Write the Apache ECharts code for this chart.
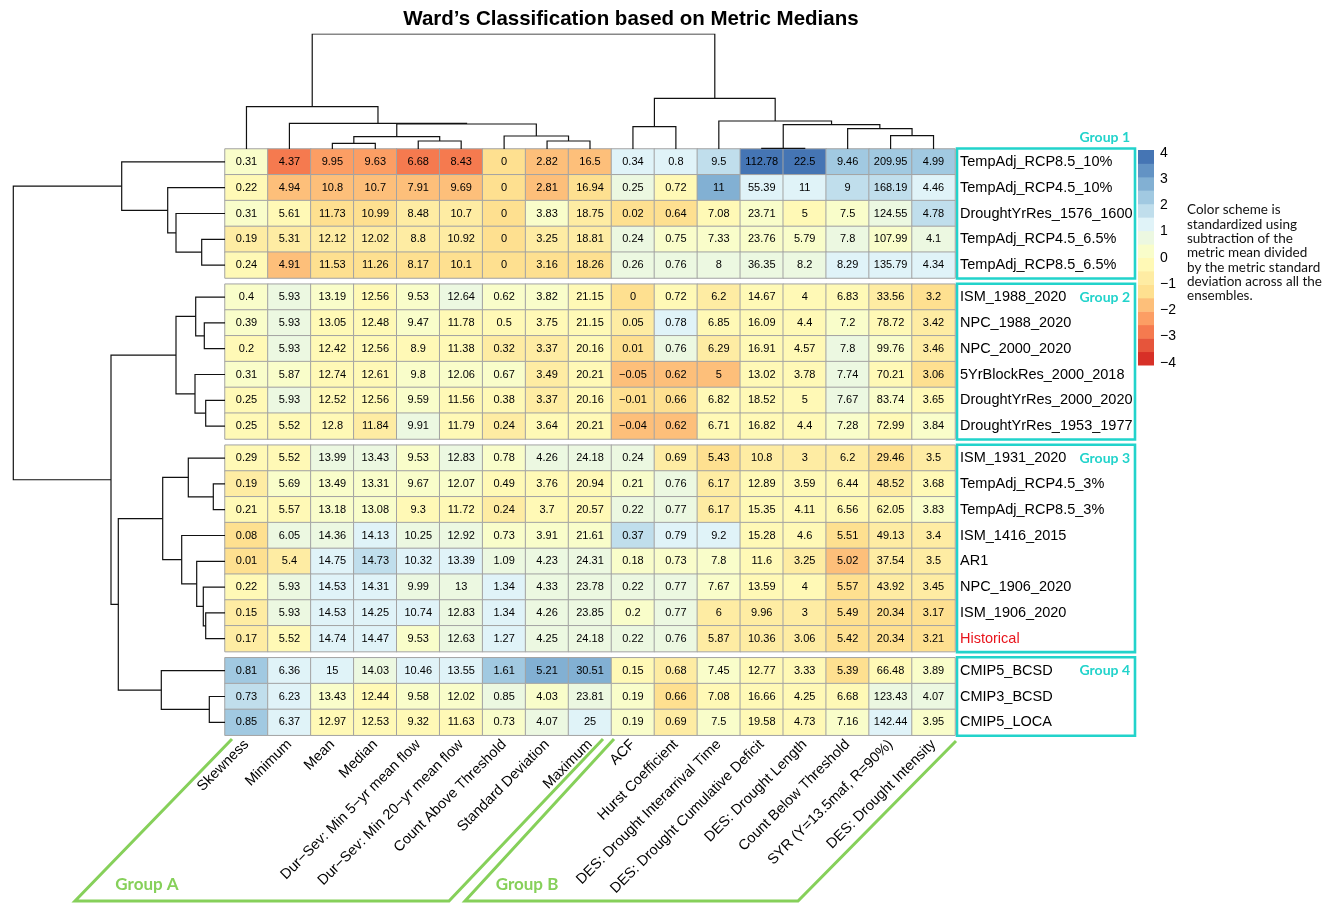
<!DOCTYPE html>
<html><head><meta charset="utf-8">
<script src="https://cdn.jsdelivr.net/npm/echarts@6/dist/echarts.min.js"></script>
<style>html,body{margin:0;padding:0;background:#fff}#c{width:1332px;height:903px}</style>
</head><body><div id="c"></div>
<script>
// ---------------- DATA ----------------
const columns = ['Skewness','Minimum','Mean','Median','Dur\u2212Sev: Min 5\u2212yr mean flow','Dur\u2212Sev: Min 20\u2212yr mean flow','Count Above Threshold','Standard Deviation','Maximum','ACF','Hurst Coefficient','DES: Drought Interarrival Time','DES: Drought Cumulative Deficit','DES: Drought Length','Count Below Threshold','SYR (Y=13.5maf, R=90%)','DES: Drought Intensity'];

const group1Rows = ['TempAdj_RCP8.5_10%','TempAdj_RCP4.5_10%','DroughtYrRes_1576_1600','TempAdj_RCP4.5_6.5%','TempAdj_RCP8.5_6.5%'];
const group1Values = [
  [0.31,4.37,9.95,9.63,6.68,8.43,0,2.82,16.5,0.34,0.8,9.5,112.78,22.5,9.46,209.95,4.99],
  [0.22,4.94,10.8,10.7,7.91,9.69,0,2.81,16.94,0.25,0.72,11,55.39,11,9,168.19,4.46],
  [0.31,5.61,11.73,10.99,8.48,10.7,0,3.83,18.75,0.02,0.64,7.08,23.71,5,7.5,124.55,4.78],
  [0.19,5.31,12.12,12.02,8.8,10.92,0,3.25,18.81,0.24,0.75,7.33,23.76,5.79,7.8,107.99,4.1],
  [0.24,4.91,11.53,11.26,8.17,10.1,0,3.16,18.26,0.26,0.76,8,36.35,8.2,8.29,135.79,4.34]
];
const group2Rows = ['ISM_1988_2020','NPC_1988_2020','NPC_2000_2020','5YrBlockRes_2000_2018','DroughtYrRes_2000_2020','DroughtYrRes_1953_1977'];
const group2Values = [
  [0.4,5.93,13.19,12.56,9.53,12.64,0.62,3.82,21.15,0,0.72,6.2,14.67,4,6.83,33.56,3.2],
  [0.39,5.93,13.05,12.48,9.47,11.78,0.5,3.75,21.15,0.05,0.78,6.85,16.09,4.4,7.2,78.72,3.42],
  [0.2,5.93,12.42,12.56,8.9,11.38,0.32,3.37,20.16,0.01,0.76,6.29,16.91,4.57,7.8,99.76,3.46],
  [0.31,5.87,12.74,12.61,9.8,12.06,0.67,3.49,20.21,-0.05,0.62,5,13.02,3.78,7.74,70.21,3.06],
  [0.25,5.93,12.52,12.56,9.59,11.56,0.38,3.37,20.16,-0.01,0.66,6.82,18.52,5,7.67,83.74,3.65],
  [0.25,5.52,12.8,11.84,9.91,11.79,0.24,3.64,20.21,-0.04,0.62,6.71,16.82,4.4,7.28,72.99,3.84]
];
const group3Rows = ['ISM_1931_2020','TempAdj_RCP4.5_3%','TempAdj_RCP8.5_3%','ISM_1416_2015','AR1','NPC_1906_2020','ISM_1906_2020','Historical'];
const group3Values = [
  [0.29,5.52,13.99,13.43,9.53,12.83,0.78,4.26,24.18,0.24,0.69,5.43,10.8,3,6.2,29.46,3.5],
  [0.19,5.69,13.49,13.31,9.67,12.07,0.49,3.76,20.94,0.21,0.76,6.17,12.89,3.59,6.44,48.52,3.68],
  [0.21,5.57,13.18,13.08,9.3,11.72,0.24,3.7,20.57,0.22,0.77,6.17,15.35,4.11,6.56,62.05,3.83],
  [0.08,6.05,14.36,14.13,10.25,12.92,0.73,3.91,21.61,0.37,0.79,9.2,15.28,4.6,5.51,49.13,3.4],
  [0.01,5.4,14.75,14.73,10.32,13.39,1.09,4.23,24.31,0.18,0.73,7.8,11.6,3.25,5.02,37.54,3.5],
  [0.22,5.93,14.53,14.31,9.99,13,1.34,4.33,23.78,0.22,0.77,7.67,13.59,4,5.57,43.92,3.45],
  [0.15,5.93,14.53,14.25,10.74,12.83,1.34,4.26,23.85,0.2,0.77,6,9.96,3,5.49,20.34,3.17],
  [0.17,5.52,14.74,14.47,9.53,12.63,1.27,4.25,24.18,0.22,0.76,5.87,10.36,3.06,5.42,20.34,3.21]
];
const group4Rows = ['CMIP5_BCSD','CMIP3_BCSD','CMIP5_LOCA'];
const group4Values = [
  [0.81,6.36,15,14.03,10.46,13.55,1.61,5.21,30.51,0.15,0.68,7.45,12.77,3.33,5.39,66.48,3.89],
  [0.73,6.23,13.43,12.44,9.58,12.02,0.85,4.03,23.81,0.19,0.66,7.08,16.66,4.25,6.68,123.43,4.07],
  [0.85,6.37,12.97,12.53,9.32,11.63,0.73,4.07,25,0.19,0.69,7.5,19.58,4.73,7.16,142.44,3.95]
];
const groupNames = ['Group 1','Group 2','Group 3','Group 4'];

// Column dendrogram (hclust style: negative = leaf index+1, positive = earlier merge)
const colMerge = [[-13,-14],[-3,-4],[-5,-6],[-8,-9],[2,3],[-7,4],[-16,-17],[-15,7],[-10,-11],[1,8],[5,6],[-2,11],[-12,10],[-1,12],[9,13],[14,15]];
const colHeights = [0.7,5.7,8,8,12.3,13,13.3,20.3,22.3,24.3,25,25.7,28,42.3,50.7,115];
// Row dendrogram
const rowMerge = [[-4,-5],[-3,1],[-2,2],[-1,3],[-7,-8],[-6,5],[-10,-11],[-9,7],[6,8],[-13,-14],[-12,10],[-18,-19],[-17,12],[-16,13],[-15,14],[11,15],[-21,-22],[-20,17],[16,18],[9,19],[4,20]];
const rowHeights = [23.3,49,57.3,103.3,20.7,29.3,19.3,30,49,11.7,36.7,19.3,21.7,28.3,43.3,62.3,15.7,63.7,106.7,114,211.7];

const legendTicks = [4,3,2,1,0,-1,-2,-3,-4];
const palette = ['#d73027','#e6553b','#f57a4f','#fc9e64','#fdbf7a','#fee090','#feeca3','#fff9b6','#f9fdca','#ecf8e1','#e0f3f8','#c0deec','#a1c9e1','#82b0d3','#6393c4','#4575b4'];
const noteLines = ['Color scheme is','standardized using','subtraction of the','metric mean divided','by the metric standard','deviation across all the','ensembles.'];

// ---------------- LAYOUT ----------------
const groupsRows = [group1Rows, group2Rows, group3Rows, group4Rows];
const groupsVals = [group1Values, group2Values, group3Values, group4Values];
const HM_LEFT = 225, HM_W = 730, TOP0 = 149, ROW_H = 25.8, GAP = 6.2;
const tops = []; { let t = TOP0; groupsRows.forEach(r => { tops.push(t); t += r.length * ROW_H + GAP; }); }
const nRows = groupsRows.reduce((a, r) => a + r.length, 0);
const gapUnits = GAP / ROW_H;
const totalUnits = nRows + 3 * gapUnits;
const HM_BOTTOM = TOP0 + totalUnits * ROW_H;
const CYAN = '#22d3cb', GREEN = '#86d05a';
const FONT = '"Liberation Sans", Arial, sans-serif';

// z-scores per column
const allVals = [].concat(...groupsVals);
const means = columns.map((_, j) => allVals.reduce((a, r) => a + r[j], 0) / allVals.length);
const sds = columns.map((_, j) => Math.sqrt(allVals.reduce((a, r) => a + (r[j] - means[j]) ** 2, 0) / (allVals.length - 1)));
const fmt = v => (v < 0 ? '\u2212' + String(-v) : String(v));

// ---------------- OPTION ----------------
const grid = [], xAxis = [], yAxis = [], series = [];
groupsRows.forEach((rows, g) => {
  grid.push({left: HM_LEFT, width: HM_W, top: tops[g], height: rows.length * ROW_H});
  xAxis.push({type: 'category', gridIndex: g, data: columns, show: g === 3,
    axisLine: {show: false}, axisTick: {show: false}, splitLine: {show: false},
    axisLabel: {rotate: 45, interval: 0, margin: 7, fontSize: 14.5, color: '#000', fontFamily: FONT}});
  yAxis.push({type: 'category', gridIndex: g, data: rows, inverse: true, position: 'right',
    axisLine: {show: false}, axisTick: {show: false}, splitLine: {show: false},
    axisLabel: {margin: 5, fontSize: 14.5, fontFamily: FONT, color: v => v === 'Historical' ? '#e8141c' : '#000'}});
  const data = [];
  groupsVals[g].forEach((row, i) => row.forEach((v, j) => {
    let z = (v - means[j]) / sds[j];
    z = Math.max(-3.999, Math.min(3.999, z));
    data.push([j, i, z, v]);
  }));
  series.push({type: 'heatmap', xAxisIndex: g, yAxisIndex: g, data,
    itemStyle: {borderColor: '#a3a3a3', borderWidth: 1},
    label: {show: true, fontSize: 11, fontFamily: FONT, color: '#000', formatter: p => fmt(p.value[3])},
    emphasis: {disabled: true}, silent: true});
});

function dendro(merge, heights, leafPos, swap) {
  const pos = [], hh = [], segs = [];
  const get = id => id < 0 ? [leafPos(-id - 1), 0] : [pos[id - 1], hh[id - 1]];
  merge.forEach((m, i) => {
    const [pa, ha] = get(m[0]), [pb, hb] = get(m[1]);
    const h = heights[i];
    pos[i] = (pa + pb) / 2; hh[i] = h;
    const pts = [[pa, ha], [pa, h], [pb, h], [pb, hb]];
    segs.push({coords: swap ? pts.map(p => [p[1], p[0]]) : pts});
  });
  return segs;
}
const maxColH = Math.max(...colHeights), maxRowH = Math.max(...rowHeights);
// top dendrogram grid (4)
grid.push({left: HM_LEFT, width: HM_W, top: TOP0 - maxColH, height: maxColH});
xAxis.push({type: 'value', gridIndex: 4, min: 0, max: columns.length, show: false});
yAxis.push({type: 'value', gridIndex: 4, min: 0, max: maxColH, show: false});
// left dendrogram grid (5)
grid.push({left: HM_LEFT - maxRowH, width: maxRowH, top: TOP0, height: totalUnits * ROW_H});
xAxis.push({type: 'value', gridIndex: 5, min: 0, max: maxRowH, inverse: true, show: false});
yAxis.push({type: 'value', gridIndex: 5, min: 0, max: totalUnits, inverse: true, show: false});

const groupOf = []; groupsRows.forEach((r, g) => r.forEach(() => groupOf.push(g)));
const lineStyle = {color: '#111', width: 1.2, opacity: 1};
series.push({type: 'lines', coordinateSystem: 'cartesian2d', xAxisIndex: 4, yAxisIndex: 4, polyline: true, silent: true,
  lineStyle, data: dendro(colMerge, colHeights, i => i + 0.5, false)});
series.push({type: 'lines', coordinateSystem: 'cartesian2d', xAxisIndex: 5, yAxisIndex: 5, polyline: true, silent: true,
  lineStyle, data: dendro(rowMerge, rowHeights, i => i + 0.5 + groupOf[i] * gapUnits, true)});

// graphics
const graphic = [];
graphic.push({type: 'text', x: 631, y: 19, style: {text: 'Ward\u2019s Classification based on Metric Medians', textAlign: 'center', textVerticalAlign: 'middle', font: 'bold 20.5px ' + FONT, fill: '#000'}});
const BOX_L = 957, BOX_R = 1135;
groupsRows.forEach((rows, g) => {
  graphic.push({type: 'rect', shape: {x: BOX_L, y: tops[g] - 0.5, width: BOX_R - BOX_L, height: rows.length * ROW_H + 1},
    style: {fill: 'none', stroke: CYAN, lineWidth: 2.6}, silent: true});
  graphic.push({type: 'text', x: 1130, y: g === 0 ? tops[0] - 12 : tops[g] + ROW_H / 2,
    style: {text: groupNames[g], textAlign: 'right', textVerticalAlign: 'middle', font: 'bold 14px Lato, sans-serif', fill: CYAN}});
});
// legend color bar
const LB_X = 1138, LB_W = 16, LB_TOP = 150, LB_BOT = 365;
const binH = (LB_BOT - LB_TOP) / palette.length;
palette.forEach((c, k) => {
  graphic.push({type: 'rect', shape: {x: LB_X, y: LB_BOT - (k + 1) * binH, width: LB_W, height: binH + 0.5}, style: {fill: c}, silent: true});
});
legendTicks.forEach(v => {
  graphic.push({type: 'text', x: 1160, y: 257.7 - v * 26.25,
    style: {text: fmt(v), textVerticalAlign: 'middle', font: '14px ' + FONT, fill: '#000'}});
});
noteLines.forEach((t, i) => {
  graphic.push({type: 'text', x: 1187, y: 210 + i * 14.3, style: {text: t, textVerticalAlign: 'middle', font: '13.5px Lato, sans-serif', fill: '#111'}});
});
// green group outlines
graphic.push({type: 'polyline', shape: {points: [[232, 739], [75, 901], [449, 901], [603, 739]]}, style: {stroke: GREEN, lineWidth: 3, fill: 'none'}});
graphic.push({type: 'polyline', shape: {points: [[614, 739], [465, 901], [798, 901], [956, 741]]}, style: {stroke: GREEN, lineWidth: 3, fill: 'none'}});
graphic.push({type: 'text', x: 147, y: 885, style: {text: 'Group A', textAlign: 'center', textVerticalAlign: 'middle', font: 'bold 17px Lato, sans-serif', fill: GREEN}});
graphic.push({type: 'text', x: 527, y: 885, style: {text: 'Group B', textAlign: 'center', textVerticalAlign: 'middle', font: 'bold 17px Lato, sans-serif', fill: GREEN}});

const chart = echarts.init(document.getElementById('c'), null, {renderer: 'canvas'});
chart.setOption({
  animation: false,
  backgroundColor: '#fff',
  grid, xAxis, yAxis, series, graphic,
  visualMap: {type: 'piecewise', show: false, dimension: 2, seriesIndex: [0, 1, 2, 3],
    pieces: palette.map((c, k) => ({gte: -4 + 0.5 * k, lt: -3.5 + 0.5 * k, color: c}))}
});
</script></body></html>
